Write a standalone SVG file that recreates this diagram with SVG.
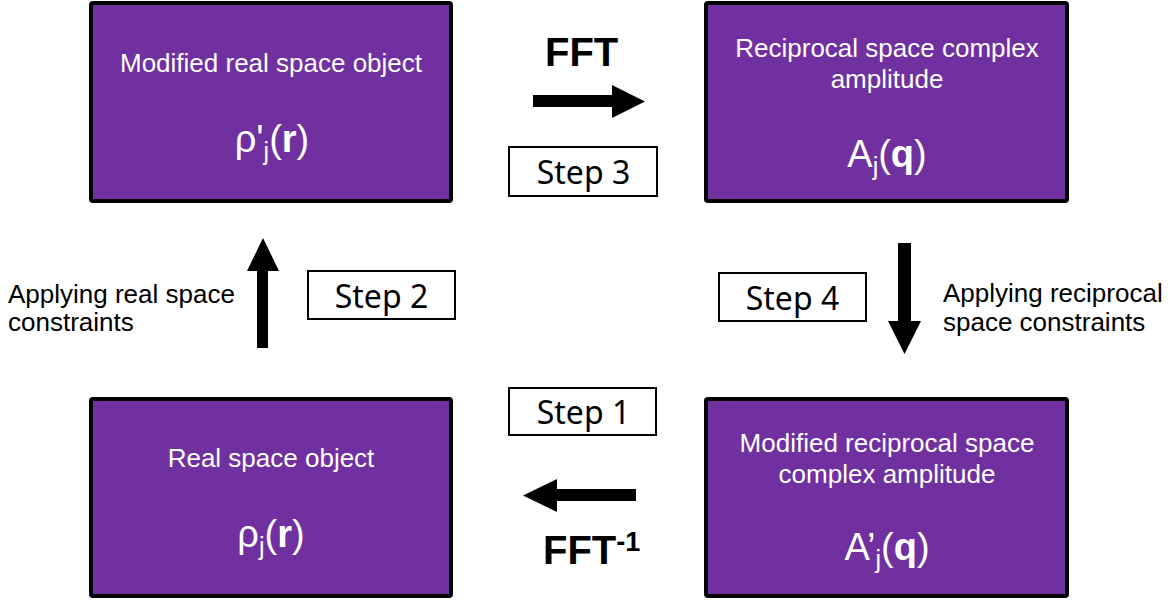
<svg xmlns="http://www.w3.org/2000/svg" width="1174" height="601" viewBox="0 0 1174 601">
<style>
.box{fill:#7030A0;stroke:#000;stroke-width:4}
.step{fill:#fff;stroke:#000;stroke-width:2}
.t{font-family:"Liberation Sans",Arial,sans-serif;font-size:26px;fill:#fff;text-anchor:middle}
.f{font-family:"Liberation Sans",Arial,sans-serif;font-size:38px;fill:#fff;text-anchor:middle}
.s{font-family:"Noto Sans","Open Sans",sans-serif;font-size:32px;fill:#000;text-anchor:middle}
.lab{font-family:"Liberation Sans",Arial,sans-serif;font-size:26px;fill:#000}
.fft{font-family:"Liberation Sans",Arial,sans-serif;font-size:40px;font-weight:bold;fill:#000}
.arr{fill:#000}
</style>
<rect width="1174" height="601" fill="#fff"/>
<g id="node-modified-real">
<rect class="box" x="91" y="3" width="360" height="198" rx="2"/>
<text class="t" x="271" y="72">Modified real space object</text>
<text class="f" x="272" y="152">ρ'<tspan font-size="25" dy="8">j</tspan><tspan dy="-8">(</tspan><tspan font-weight="bold">r</tspan>)</text>
</g>
<g id="node-reciprocal">
<rect class="box" x="706" y="3" width="361" height="198" rx="2"/>
<text class="t" x="887" y="57">Reciprocal space complex</text>
<text class="t" x="887" y="88">amplitude</text>
<text class="f" x="887" y="167">A<tspan font-size="25" dy="8">j</tspan><tspan dy="-8">(</tspan><tspan font-weight="bold">q</tspan>)</text>
</g>
<g id="node-real">
<rect class="box" x="91" y="399" width="360" height="197" rx="2"/>
<text class="t" x="271" y="467">Real space object</text>
<text class="f" x="271" y="547">ρ<tspan font-size="25" dy="8">j</tspan><tspan dy="-8">(</tspan><tspan font-weight="bold">r</tspan>)</text>
</g>
<g id="node-modified-reciprocal">
<rect class="box" x="706" y="399" width="361" height="197" rx="2"/>
<text class="t" x="887" y="452">Modified reciprocal space</text>
<text class="t" x="887" y="483">complex amplitude</text>
<text class="f" x="887" y="560">A’<tspan font-size="25" dy="8">j</tspan><tspan dy="-8">(</tspan><tspan font-weight="bold">q</tspan>)</text>
</g>
<g id="connectors">
<polygon class="arr" points="533,95 612,95 612,85 645,101.5 612,118 612,107 533,107"/>
<polygon class="arr" points="636,489 557,489 557,479 523,495.5 557,512 557,501 636,501"/>
<polygon class="arr" points="257,348 257,271 247,271 263,238 279,271 268,271 268,348"/>
<polygon class="arr" points="898,243 911,243 911,321 921,321 904.5,354 888,321 898,321"/>
</g>
<g id="label-fft">
<text class="fft" x="545" y="66">FFT</text>
</g>
<g id="label-ifft">
<text class="fft" x="543" y="564">FFT<tspan font-size="27" dy="-13">-1</tspan></text>
</g>
<g id="step3">
<rect class="step" x="509" y="147" width="148" height="49"/>
<text class="s" x="583.5" y="184">Step 3</text>
</g>
<g id="step1">
<rect class="step" x="509" y="388" width="147" height="47"/>
<text class="s" x="583.5" y="424">Step 1</text>
</g>
<g id="step2">
<rect class="step" x="308" y="271" width="147" height="48"/>
<text class="s" x="381.5" y="308">Step 2</text>
</g>
<g id="step4">
<rect class="step" x="719" y="273" width="147" height="48"/>
<text class="s" x="792.5" y="310">Step 4</text>
</g>
<g id="label-real-constraints">
<text class="lab" x="8" y="303">Applying real space</text>
<text class="lab" x="8" y="331">constraints</text>
</g>
<g id="label-reciprocal-constraints">
<text class="lab" x="943" y="302">Applying reciprocal</text>
<text class="lab" x="943" y="331">space constraints</text>
</g>
</svg>
